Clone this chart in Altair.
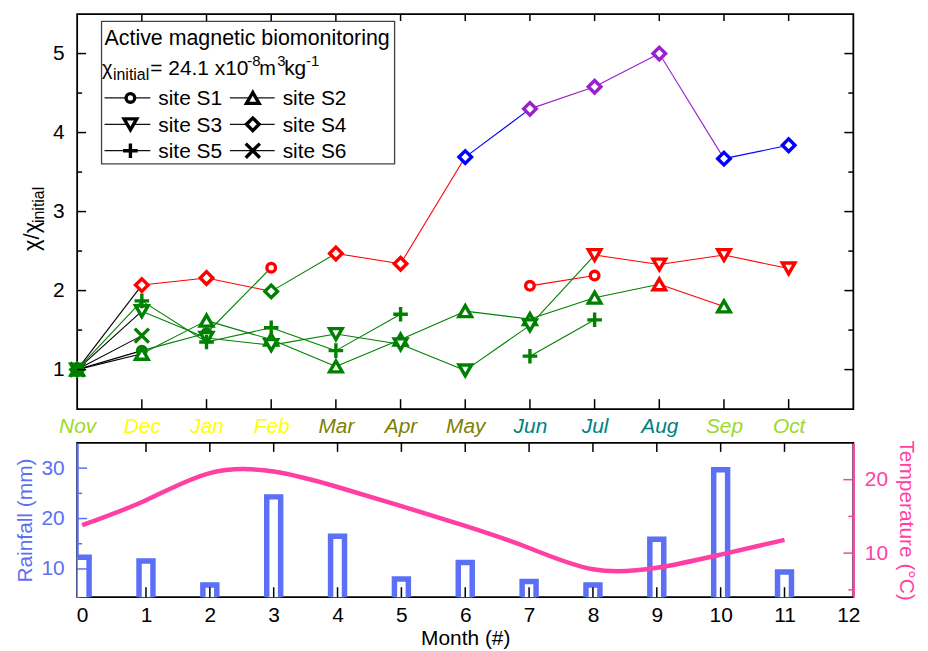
import altair as alt
import pandas as pd

FONT = "Liberation Sans"

# ---------------- data ----------------
MONTHS = ["Nov", "Dec", "Jan", "Feb", "Mar", "Apr", "May", "Jun", "Jul", "Aug", "Sep", "Oct"]
MONTH_IDX = list(range(12))

# chi / chi_initial per month (Nov..Oct); None = no sample
S1 = [1.00, 1.24, 1.46, 2.29, None, None, None, 2.06, 2.19, None, None, None]
S2 = [1.00, 1.20, 1.62, 1.38, 1.04, 1.38, 1.74, 1.64, 1.91, 2.08, 1.80, None]
S3 = [1.00, 1.74, 1.40, 1.31, 1.45, 1.32, 0.99, 1.56, 2.45, 2.33, 2.45, 2.28]
S4 = [1.00, 2.07, 2.16, 1.99, 2.47, 2.34, 3.69, 4.30, 4.58, 5.00, 3.67, 3.84]
S5 = [1.00, 1.87, 1.35, 1.53, 1.24, 1.70, None, 1.17, 1.63, None, None, None]
S6 = [1.00, 1.43, None, None, None, None, None, None, None, None, None, None]

# colour class of each point (g green, r red, b blue, p purple, _ none)
S1_C = "gggr___rr___"
S2_C = "gggggggggrg_"
S3_C = "ggggggggrrrr"
S4_C = "grrgrrbpppbb"
S5_C = "gggggg_gg___"
S6_C = "gg__________"

FIRST_SEG = {"S1": "black", "S2": "black", "S3": "black", "S4": "black", "S5": "green", "S6": "black"}

RAIN = [12.3, 11.6, 6.8, 24.3, 16.5, 8.0, 11.3, 7.5, 6.8, 15.9, 29.7, 9.4]
TEMP = [13.8, 17.2, 20.9, 21.1, 19.0, 16.4, 13.7, 10.7, 7.8, 8.0, 9.8, 11.8]

MONTH_COLORS = ["#9BD92E", "#FFFF00", "#FFFF00", "#FFFF00", "#808000", "#808000",
                "#808000", "#008080", "#008080", "#008080", "#9BD92E", "#9BD92E"]

# ---------------- styles ----------------
CLS = {"g": "#008000", "r": "#FF0000", "b": "#0000FF", "p": "#9A20CC"}
SEGCOL = {"black": "#000000", "green": "#008000"}
BLUE = "#5B70F5"
PINK = "#FF3FA4"
PLUS = "M-1,0H1M0,-1V1"
XSHP = "M-1,-1L1,1M-1,1L1,-1"
SHAPES = {"S1": "circle", "S2": "triangle-up", "S3": "triangle-down", "S4": "diamond", "S5": PLUS, "S6": XSHP}
SIZES = {"S1": 75, "S2": 160, "S3": 160, "S4": 160, "S5": 215, "S6": 200}

SITES = [("S1", S1, S1_C), ("S2", S2, S2_C), ("S3", S3, S3_C),
         ("S4", S4, S4_C), ("S5", S5, S5_C), ("S6", S6, S6_C)]

pts_rows, seg_rows = [], []
for site, vals, cls in SITES:
    for i, v in enumerate(vals):
        if v is not None:
            pts_rows.append(dict(site=site, m=i, v=v, color=CLS[cls[i]],
                                 shape=SHAPES[site], size=SIZES[site]))
    for i in range(11):
        if vals[i] is not None and vals[i + 1] is not None:
            c = SEGCOL[FIRST_SEG[site]] if i == 0 else CLS[cls[i]]
            seg_rows.append(dict(site=site, m=i, m2=i + 1, v=vals[i], v2=vals[i + 1], color=c))
pts = pd.DataFrame(pts_rows)
segs = pd.DataFrame(seg_rows)
clim = pd.DataFrame({"m": MONTH_IDX, "rain": RAIN, "temp": TEMP})

W1, H1 = 780, 397
W2, H2 = 780, 155

xsc = alt.Scale(domain=[0, 12], nice=False, zero=False)
ysc1 = alt.Scale(domain=[0.5, 5.5], nice=False, zero=False)
rsc = alt.Scale(domain=[4.4, 35], nice=False, zero=False)
tsc = alt.Scale(domain=[4, 25], nice=False, zero=False)


def one():
    return pd.DataFrame({"k": [0]})


month_expr = "[" + ",".join("'%s'" % m for m in MONTHS) + "][datum.value]"
X_TOP = alt.Axis(values=MONTH_IDX, labelExpr=month_expr, labelFontStyle="italic",
                 labelFontSize=21, labelPadding=7, ticks=False, tickSize=0, domain=False,
                 grid=False, title=None, labelFlush=False, labelOverlap=False,
                 labelColor={"condition": [
                     {"test": "datum.value == 0 || datum.value >= 10", "value": MONTH_COLORS[0]},
                     {"test": "datum.value >= 1 && datum.value <= 3", "value": MONTH_COLORS[1]},
                     {"test": "datum.value >= 4 && datum.value <= 6", "value": MONTH_COLORS[4]}],
                     "value": MONTH_COLORS[7]})
Y_TOP = alt.Axis(values=[1, 2, 3, 4, 5], format="d", labelFontSize=21, labelPadding=13,
                 ticks=False, tickSize=0, domain=False, grid=False, title=None)

# ---------------- upper panel ----------------
box = alt.Chart(one()).mark_rect(fill="white", stroke="#404040", strokeWidth=1.3).encode(
    x=alt.value(24.5), x2=alt.value(319), y=alt.value(7.3), y2=alt.value(150.6))

lines = alt.Chart(segs).mark_rule(strokeWidth=1.1).encode(
    x=alt.X("m:Q", scale=xsc, axis=X_TOP), x2="m2:Q",
    y=alt.Y("v:Q", scale=ysc1, axis=Y_TOP), y2="v2:Q",
    color=alt.Color("color:N", scale=None))

points = alt.Chart(pts).mark_point(filled=False, fill="white", strokeWidth=3.4, opacity=1).encode(
    x=alt.X("m:Q", scale=xsc, axis=X_TOP),
    y=alt.Y("v:Q", scale=ysc1, axis=Y_TOP),
    color=alt.Color("color:N", scale=None),
    shape=alt.Shape("shape:N", scale=None),
    size=alt.Size("size:Q", scale=None))

yt_major = pd.DataFrame({"v": [1, 2, 3, 4, 5]})
yt_minor = pd.DataFrame({"v": [1.5, 2.5, 3.5, 4.5]})
xt = pd.DataFrame({"m": list(range(1, 12))})

tick_layers = []
for df, ln in [(yt_major, 9), (yt_minor, 5)]:
    tick_layers.append(alt.Chart(df).mark_rule(color="black", strokeWidth=1.5).encode(
        y=alt.Y("v:Q", scale=ysc1, axis=Y_TOP), x=alt.value(0), x2=alt.value(ln)))
    tick_layers.append(alt.Chart(df).mark_rule(color="black", strokeWidth=1.5).encode(
        y=alt.Y("v:Q", scale=ysc1, axis=Y_TOP), x=alt.value(W1), x2=alt.value(W1 - ln)))
tick_layers.append(alt.Chart(xt).mark_rule(color="black", strokeWidth=1.5).encode(
    x=alt.X("m:Q", scale=xsc, axis=X_TOP), y=alt.value(H1), y2=alt.value(H1 - 10)))
tick_layers.append(alt.Chart(xt).mark_rule(color="black", strokeWidth=1.5).encode(
    x=alt.X("m:Q", scale=xsc, axis=X_TOP), y=alt.value(0), y2=alt.value(7)))

# legend
leg_layers = []
LEG = [("site S1", "S1", 0, 0), ("site S2", "S2", 1, 0), ("site S3", "S3", 0, 1),
       ("site S4", "S4", 1, 1), ("site S5", "S5", 0, 2), ("site S6", "S6", 1, 2)]
COL_LINE = [(27.5, 73.5, 53.5, 81.5), (153.5, 198.5, 176.5, 206.5)]
ROW_Y = [84.3, 110.8, 137.3]
for label, site, c, r in LEG:
    x0, x1, xm, xtxt = COL_LINE[c]
    yy = ROW_Y[r]
    leg_layers.append(alt.Chart(one()).mark_rule(color="#111111", strokeWidth=1.2).encode(
        x=alt.value(x0), x2=alt.value(x1), y=alt.value(yy)))
    leg_layers.append(alt.Chart(one()).mark_point(
        shape=SHAPES[site], size=SIZES[site], filled=False, fill="white", color="black",
        strokeWidth=3.4, opacity=1).encode(x=alt.value(xm), y=alt.value(yy)))
    leg_layers.append(alt.Chart(one()).mark_text(
        text=label, align="left", baseline="alphabetic", fontSize=21, font=FONT, color="black").encode(
        x=alt.value(xtxt), y=alt.value(yy + 7.5)))

TXT = [("Active magnetic biomonitoring", 27.5, 30.6, 21.5),
       ("χ", 25, 61.3, 20), ("initial", 36, 66.5, 16),
       ("= 24.1 x10", 73.5, 61.3, 21), ("-8", 171, 52.5, 15),
       ("m", 183, 61.3, 20), ("3", 201, 52.5, 15),
       ("kg", 208, 61.3, 21), ("-1", 230, 52.5, 15)]
for t, px, py, fs in TXT:
    leg_layers.append(alt.Chart(one()).mark_text(
        text=t, align="left", baseline="alphabetic", fontSize=fs, font=FONT, color="black").encode(
        x=alt.value(px), y=alt.value(py)))

# y title with subscript
ytitle = [("χ/χ", -38, 238, 22), ("initial", -33, 210, 16)]
for t, px, py, fs in ytitle:
    leg_layers.append(alt.Chart(one()).mark_text(
        text=t, angle=270, align="left", baseline="alphabetic", fontSize=fs, font=FONT,
        color="black").encode(x=alt.value(px), y=alt.value(py)))

upper = alt.layer(box, lines, points, *tick_layers, *leg_layers).properties(width=W1, height=H1)

# ---------------- lower panel ----------------
X_BOT = alt.Axis(values=list(range(13)), format="d", labelFontSize=21, labelPadding=7,
                 ticks=False, tickSize=0, domain=False, grid=False, title="Month (#)",
                 titleFontSize=21, titleFontWeight="normal", titlePadding=3, labelFlush=False)
Y_RAIN = alt.Axis(orient="left", values=[10, 20, 30], format="d", labelFontSize=21, labelPadding=13,
                  labelColor=BLUE, ticks=False, tickSize=0, domain=True, domainColor=BLUE,
                  domainWidth=2.2, grid=False, title="Rainfall (mm)", titleColor=BLUE,
                  titleFontSize=21, titleFontWeight="normal", titlePadding=6)
Y_TEMP = alt.Axis(orient="right", values=[10, 20], format="d", labelFontSize=21, labelPadding=11,
                  labelColor=PINK, ticks=False, tickSize=0, domain=True, domainColor=PINK,
                  domainWidth=2.2, grid=False, title="Temperature (°C)", titleColor=PINK,
                  titleFontSize=21, titleFontWeight="normal", titlePadding=8)

bars = alt.Chart(clim).mark_bar(width=14, fill="white", stroke=BLUE, strokeWidth=5.5, clip=True).encode(
    x=alt.X("m:Q", scale=xsc, axis=X_BOT),
    y=alt.Y("rain:Q", scale=rsc, axis=Y_RAIN), y2=alt.value(H2 + 6))

temp = alt.Chart(clim).mark_line(interpolate="natural", color=PINK, strokeWidth=4.5).encode(
    x=alt.X("m:Q", scale=xsc, axis=X_BOT),
    y=alt.Y("temp:Q", scale=tsc, axis=Y_TEMP))

r_major = pd.DataFrame({"v": [10, 20, 30]})
r_minor = pd.DataFrame({"v": [15, 25]})
t_major = pd.DataFrame({"v": [10, 20]})
t_minor = pd.DataFrame({"v": [5, 15]})
low_ticks = [
    alt.Chart(r_major).mark_rule(color=BLUE, strokeWidth=1.5).encode(
        y=alt.Y("v:Q", scale=rsc, axis=None), x=alt.value(0), x2=alt.value(10)),
    alt.Chart(r_minor).mark_rule(color=BLUE, strokeWidth=1.5).encode(
        y=alt.Y("v:Q", scale=rsc, axis=None), x=alt.value(0), x2=alt.value(5)),
    alt.Chart(t_major).mark_rule(color=PINK, strokeWidth=1.5).encode(
        y=alt.Y("v:Q", scale=tsc, axis=None), x=alt.value(W2), x2=alt.value(W2 - 10)),
    alt.Chart(t_minor).mark_rule(color=PINK, strokeWidth=1.5).encode(
        y=alt.Y("v:Q", scale=tsc, axis=None), x=alt.value(W2), x2=alt.value(W2 - 5)),
    alt.Chart(xt).mark_rule(color="black", strokeWidth=1.5).encode(
        x=alt.X("m:Q", scale=xsc, axis=X_BOT), y=alt.value(H2), y2=alt.value(H2 - 10)),
    alt.Chart(xt).mark_rule(color="black", strokeWidth=1.5).encode(
        x=alt.X("m:Q", scale=xsc, axis=X_BOT), y=alt.value(0), y2=alt.value(9)),
]

lower = alt.layer(bars, temp, *low_ticks).resolve_scale(y="independent").properties(width=W2, height=H2)

chart = alt.vconcat(upper, lower, spacing=0).properties(
    padding={"left": 4.5, "top": 2.5, "right": 2, "bottom": 0}
).configure(font=FONT).configure_view(stroke="black", strokeWidth=1.8)

chart.save("out.html", embed_options={"renderer": "svg", "actions": False})
